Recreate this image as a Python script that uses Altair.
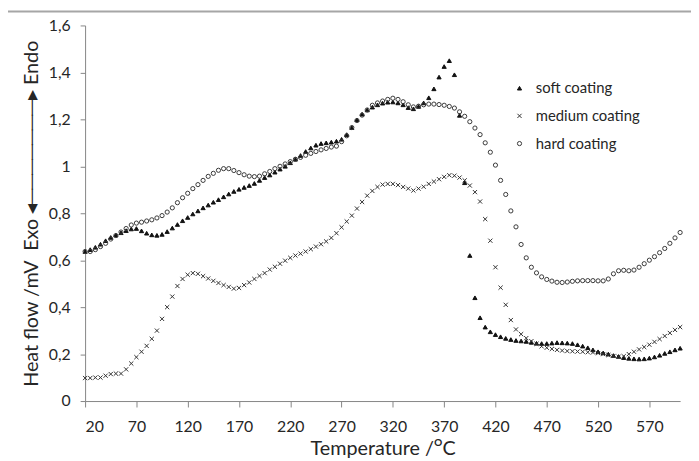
import altair as alt
import pandas as pd

temps = list(range(20, 601, 5))

soft = [0.637, 0.645, 0.655, 0.668, 0.683, 0.697, 0.707, 0.717, 0.726, 0.733,
        0.735, 0.725, 0.715, 0.708, 0.706, 0.710, 0.722, 0.737, 0.752, 0.768,
        0.782, 0.797, 0.810, 0.823, 0.835, 0.847, 0.858, 0.870, 0.882, 0.893,
        0.902, 0.910, 0.918, 0.927, 0.940, 0.952, 0.963, 0.975, 0.988, 1.000,
        1.015, 1.030, 1.046, 1.063, 1.078, 1.090, 1.097, 1.100, 1.103, 1.107,
        1.115, 1.135, 1.165, 1.198, 1.222, 1.240, 1.252, 1.262, 1.269, 1.273,
        1.274, 1.270, 1.262, 1.250, 1.245, 1.255, 1.270, 1.292, 1.330, 1.380,
        1.425, 1.450, 1.390, 1.217, 0.930, 0.620, 0.440, 0.355, 0.315, 0.295,
        0.283, 0.274, 0.267, 0.262, 0.258, 0.256, 0.254, 0.250, 0.246, 0.245,
        0.245, 0.247, 0.249, 0.248, 0.247, 0.245, 0.240, 0.234, 0.227, 0.218,
        0.210, 0.205, 0.200, 0.194, 0.190, 0.185, 0.182, 0.180, 0.179, 0.180,
        0.183, 0.188, 0.195, 0.203, 0.210, 0.218, 0.225]

medium = [0.098, 0.098, 0.100, 0.100, 0.108, 0.115, 0.117, 0.117, 0.135, 0.160,
          0.187, 0.210, 0.235, 0.265, 0.300, 0.350, 0.400, 0.445, 0.490, 0.520,
          0.538, 0.545, 0.542, 0.532, 0.522, 0.512, 0.503, 0.494, 0.486, 0.479,
          0.482, 0.494, 0.505, 0.520, 0.533, 0.545, 0.560, 0.572, 0.585, 0.598,
          0.610, 0.620, 0.628, 0.637, 0.647, 0.658, 0.668, 0.680, 0.695, 0.715,
          0.740, 0.765, 0.790, 0.820, 0.848, 0.875, 0.895, 0.912, 0.922, 0.925,
          0.925, 0.920, 0.912, 0.905, 0.897, 0.905, 0.913, 0.925, 0.935, 0.945,
          0.955, 0.962, 0.960, 0.952, 0.940, 0.918, 0.890, 0.850, 0.775, 0.683,
          0.570, 0.483, 0.410, 0.345, 0.305, 0.285, 0.268, 0.255, 0.244, 0.233,
          0.227, 0.222, 0.218, 0.215, 0.213, 0.212, 0.211, 0.210, 0.208, 0.207,
          0.204, 0.200, 0.196, 0.192, 0.189, 0.191, 0.200, 0.210, 0.220, 0.230,
          0.240, 0.252, 0.264, 0.277, 0.290, 0.303, 0.315]

hard = [0.637, 0.637, 0.645, 0.658, 0.672, 0.690, 0.705, 0.720, 0.735, 0.750,
        0.758, 0.762, 0.767, 0.772, 0.780, 0.790, 0.805, 0.823, 0.845, 0.866,
        0.885, 0.905, 0.922, 0.940, 0.957, 0.970, 0.983, 0.990, 0.990, 0.982,
        0.973, 0.964, 0.958, 0.956, 0.958, 0.968, 0.978, 0.990, 1.000, 1.010,
        1.020, 1.030, 1.038, 1.047, 1.055, 1.063, 1.070, 1.076, 1.082, 1.086,
        1.105, 1.130, 1.165, 1.195, 1.218, 1.240, 1.260, 1.270, 1.278, 1.285,
        1.290, 1.285, 1.275, 1.262, 1.253, 1.256, 1.262, 1.265, 1.265, 1.263,
        1.260, 1.255, 1.248, 1.232, 1.213, 1.190, 1.163, 1.135, 1.100, 1.060,
        1.005, 0.940, 0.880, 0.810, 0.742, 0.667, 0.610, 0.570, 0.546, 0.529,
        0.518, 0.511, 0.506, 0.505, 0.507, 0.510, 0.512, 0.513, 0.513, 0.513,
        0.512, 0.512, 0.520, 0.542, 0.555, 0.557, 0.555, 0.558, 0.570, 0.585,
        0.600, 0.615, 0.632, 0.650, 0.672, 0.695, 0.718]

series_names = ["soft coating", "medium coating", "hard coating"]
x_ticks = list(range(20, 571, 50))
y_ticks = [0, 0.2, 0.4, 0.6, 0.8, 1.0, 1.2, 1.4, 1.6]

rows = []
for name, vals in zip(series_names, [soft, medium, hard]):
    for t, v in zip(temps, vals):
        rows.append({"T": t, "V": v, "series": name})
df = pd.DataFrame(rows)

FONT = "Lato"
XPATH = "M-1,-1L1,1M-1,1L1,-1"
NB = "\u00a0"
Y_TITLE = "Heat flow /mV" + NB * 2 + "Exo" + NB + "\u25c2" + "\u2500" * 7 + "\u25b8" + NB + "Endo"

points = alt.Chart(df).mark_point(filled=False, strokeWidth=1, opacity=1).encode(
    x=alt.X("T:Q", scale=alt.Scale(domain=[20, 600], nice=False, zero=False),
            axis=alt.Axis(values=x_ticks, title="Temperature /ᴼC", grid=False,
                          tickSize=6, labelPadding=12, titlePadding=4,
                          labelFontSize=16, titleFontSize=20)),
    y=alt.Y("V:Q", scale=alt.Scale(domain=[0, 1.6], nice=False),
            axis=alt.Axis(values=y_ticks,
                          labelExpr="replace(format(datum.value, '.1~f'), '.', ',')",
                          title=Y_TITLE,
                          grid=False, tickSize=5, labelPadding=10, titlePadding=7,
                          labelFontSize=16, titleFontSize=20)),
    shape=alt.Shape("series:N", sort=series_names,
                    scale=alt.Scale(domain=series_names, range=["triangle-up", XPATH, "circle"]),
                    legend=alt.Legend(title=None, orient="none", legendX=432, legendY=56,
                                      labelFontSize=15, labelFont=FONT, labelColor="#262626",
                                      rowPadding=12, symbolStrokeWidth=1, labelOffset=9)),
    fill=alt.Fill("series:N", sort=series_names,
                  scale=alt.Scale(domain=series_names, range=["#111111", "transparent", "transparent"])),
    stroke=alt.Stroke("series:N", sort=series_names,
                      scale=alt.Scale(domain=series_names, range=["#111111", "#333333", "#3a3a3a"])),
    size=alt.Size("series:N", sort=series_names,
                  scale=alt.Scale(domain=series_names, range=[18, 18, 28])),
)

topline = alt.Chart(pd.DataFrame({"k": [0]})).mark_rule(color="#a6a6a6", strokeWidth=2).encode(
    x=alt.value(-78), x2=alt.value(613), y=alt.value(-14)
)

chart = alt.layer(points, topline).properties(
    width=602, height=380,
    padding={"left": 78, "top": 15, "right": 11, "bottom": 58},
    autosize="none",
).configure_axis(
    domainColor="#868686", tickColor="#868686", labelColor="#262626", titleColor="#262626",
    labelFont=FONT, titleFont=FONT, titleFontWeight="normal",
).configure_view(stroke=None)

chart.save("out.html", embed_options={"renderer": "svg", "actions": False})
